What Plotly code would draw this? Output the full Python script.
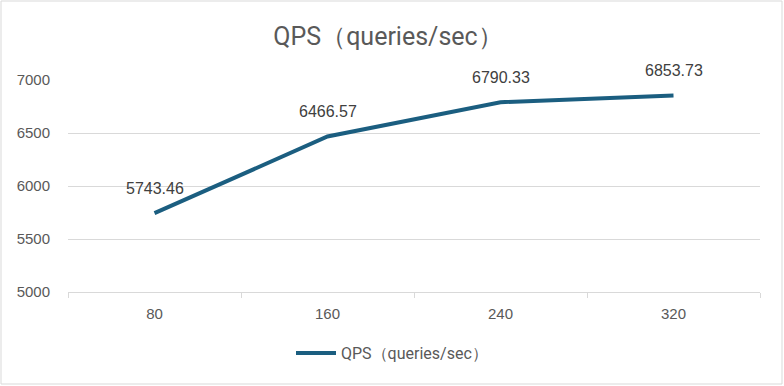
import plotly.graph_objects as go

categories = ["80", "160", "240", "320"]
qps_values = [5743.46, 6466.57, 6790.33, 6853.73]
series_name = "QPS（queries/sec）"
y_ticks = [5000, 5500, 6000, 6500, 7000]

W, H = 784, 386
L, R, T, B = 68, 24, 80, 94
line_color = "#1b5e80"

fig = go.Figure()
fig.add_trace(go.Scatter(
    x=categories, y=qps_values, mode="lines", name=series_name,
    line=dict(color=line_color, width=4),
))
for i, v in enumerate(qps_values):
    fig.add_annotation(x=i, y=v, xref="x", yref="y", text=f"{v:.2f}", showarrow=False,
                       yshift=25, font=dict(family="Liberation Sans, Arial", size=16, color="#404040"))

pw = W - L - R
ph = H - T - B
fig.add_shape(type="rect", xref="paper", yref="paper",
              x0=(1 - L) / pw, x1=(W - 2 - L) / pw,
              y0=-(H - 2 - T - ph) / ph, y1=1 + (T - 1) / ph,
              line=dict(color="#d9d9d9", width=1), fillcolor="rgba(0,0,0,0)", layer="below")

fig.update_layout(
    width=W, height=H,
    margin=dict(l=L, r=R, t=T, b=B),
    paper_bgcolor="white", plot_bgcolor="white",
    title=dict(text=series_name, x=388 / W, xref="container", xanchor="center",
               y=1 - 36 / H, yref="container", yanchor="middle",
               font=dict(family="Roboto, Liberation Sans", size=25, color="#595959")),
    xaxis=dict(type="category", range=[-0.5, 3.5], showgrid=False,
               showline=True, linecolor="#d9d9d9", linewidth=1,
               ticks="outside", tickson="boundaries", ticklen=5, tickcolor="#d9d9d9",
               tickfont=dict(family="Liberation Sans, Arial", size=15, color="#595959"),
               ticklabelstandoff=8, zeroline=False),
    yaxis=dict(range=[5000, 7000], tickvals=y_ticks, showgrid=True, gridcolor="#d9d9d9",
               gridwidth=1, zeroline=False, showline=False, ticks="",
               tickfont=dict(family="Liberation Sans, Arial", size=15, color="#595959"),
               ticklabelstandoff=17),
    showlegend=True,
    legend=dict(orientation="h", x=392 / W, xref="container", xanchor="center",
                y=1 - 353 / H, yref="container", yanchor="middle",
                font=dict(family="Roboto, Liberation Sans", size=16, color="#595959"),
                itemwidth=40),
)
fig.write_html("out.html", config={"displayModeBar": False},
               post_script="document.body.style.margin='0';")
